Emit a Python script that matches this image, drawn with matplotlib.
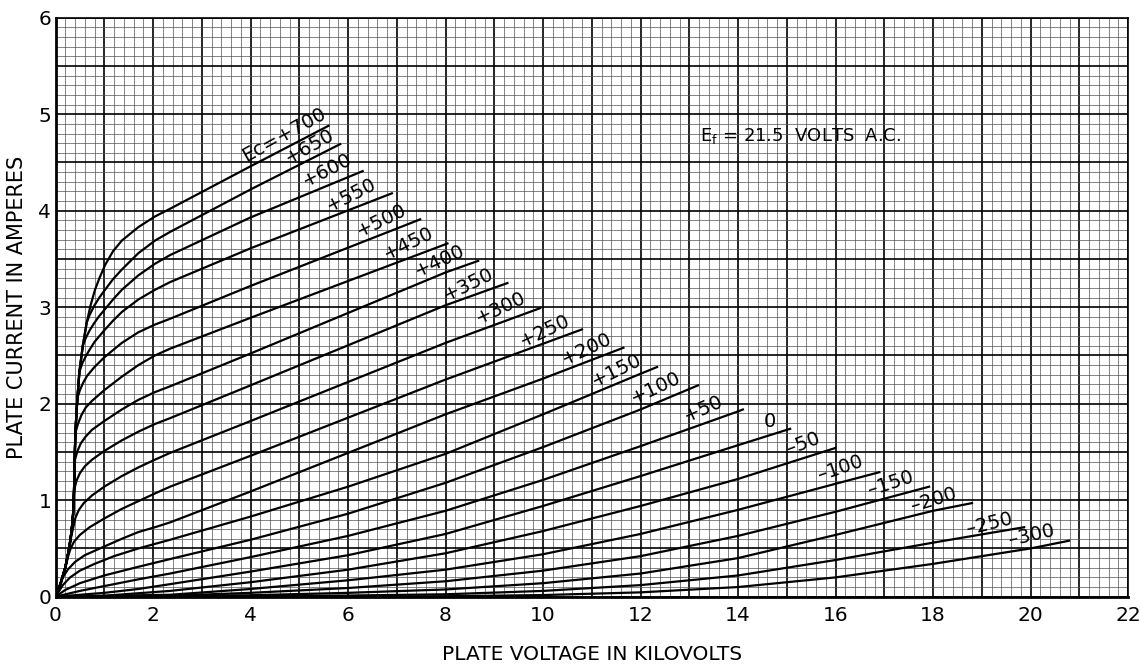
import matplotlib
matplotlib.use("Agg")
import matplotlib.pyplot as plt
from matplotlib.ticker import MultipleLocator, FuncFormatter

# Grid bias (volts) of each plate characteristic, top to bottom
grid_bias = [700, 650, 600, 550, 500, 450, 400, 350, 300, 250, 200,
             150, 100, 50, 0, -50, -100, -150, -200, -250, -300]

# Plate voltage (kV) / plate current (A) pairs for each grid bias
ep_p700 = [0, 0.1, 0.2, 0.28, 0.33, 0.36, 0.38, 0.39, 0.40, 0.41, 0.43, 0.45, 0.49, 0.56, 0.64,
           0.72, 0.81, 0.9, 1.02, 1.18, 1.36, 1.7, 2.04, 2.35, 4, 5.6]
ip_p700 = [0, 0.13, 0.3, 0.5, 0.68, 0.85, 1.1, 1.35, 1.55, 1.72, 1.9, 2.06, 2.33, 2.6, 2.84,
           3.02, 3.18, 3.3, 3.44, 3.58, 3.69, 3.83, 3.94, 4.02, 4.46, 4.88]

ep_p650 = [0, 0.1, 0.2, 0.28, 0.33, 0.36, 0.38, 0.39, 0.40, 0.41, 0.43, 0.45, 0.49, 0.56, 0.64,
           0.7, 0.8, 0.9, 1.0, 1.18, 1.36, 1.7, 2.04, 2.35, 4, 5.84]
ip_p650 = [0, 0.13, 0.3, 0.5, 0.68, 0.85, 1.1, 1.35, 1.55, 1.72, 1.9, 2.06, 2.33, 2.6, 2.84,
           2.92, 3.02, 3.1, 3.17, 3.29, 3.39, 3.56, 3.69, 3.78, 4.22, 4.69]

ep_p600 = [0, 0.1, 0.2, 0.28, 0.33, 0.36, 0.38, 0.39, 0.40, 0.41, 0.43, 0.45, 0.49, 0.56,
           0.62, 0.7, 0.8, 0.9, 1.0, 1.18, 1.36, 1.7, 2.04, 2.35, 4, 6.3]
ip_p600 = [0, 0.13, 0.3, 0.5, 0.68, 0.85, 1.1, 1.35, 1.55, 1.72, 1.9, 2.06, 2.33, 2.6,
           2.68, 2.76, 2.84, 2.91, 2.97, 3.08, 3.18, 3.33, 3.45, 3.54, 3.93, 4.41]

ep_p550 = [0, 0.1, 0.2, 0.28, 0.33, 0.36, 0.38, 0.39, 0.40, 0.41, 0.43, 0.45, 0.49,
           0.55, 0.62, 0.7, 0.8, 1.0, 1.18, 1.36, 1.7, 2.04, 2.35, 4, 6.9]
ip_p550 = [0, 0.13, 0.3, 0.5, 0.68, 0.85, 1.1, 1.35, 1.55, 1.72, 1.9, 2.06, 2.33,
           2.42, 2.49, 2.56, 2.64, 2.76, 2.86, 2.95, 3.08, 3.18, 3.26, 3.61, 4.18]

ep_p500 = [0, 0.1, 0.2, 0.28, 0.33, 0.36, 0.38, 0.39, 0.40, 0.41, 0.43, 0.45,
           0.5, 0.57, 0.65, 0.8, 1.0, 1.36, 1.7, 2.04, 2.35, 4, 7.48]
ip_p500 = [0, 0.13, 0.3, 0.5, 0.68, 0.85, 1.1, 1.35, 1.55, 1.72, 1.9, 2.06,
           2.14, 2.22, 2.29, 2.38, 2.48, 2.63, 2.74, 2.82, 2.88, 3.22, 3.91]

ep_p450 = [0, 0.1, 0.2, 0.28, 0.33, 0.36, 0.38, 0.39, 0.40, 0.41,
           0.46, 0.53, 0.62, 0.75, 1.0, 1.36, 1.7, 2.04, 2.35, 4, 8.04]
ip_p450 = [0, 0.13, 0.3, 0.5, 0.68, 0.85, 1.1, 1.35, 1.55, 1.70,
           1.79, 1.88, 1.96, 2.03, 2.14, 2.28, 2.40, 2.50, 2.57, 2.89, 3.66]

ep_p400 = [0, 0.1, 0.2, 0.28, 0.33, 0.36, 0.38, 0.395, 0.40,
           0.45, 0.52, 0.62, 0.75, 1.0, 1.36, 1.7, 2.04, 2.35, 4, 8, 8.67]
ip_p400 = [0, 0.13, 0.3, 0.5, 0.68, 0.85, 1.1, 1.3, 1.42,
           1.51, 1.59, 1.66, 1.73, 1.82, 1.94, 2.04, 2.12, 2.18, 2.52, 3.36, 3.48]

ep_p350 = [0, 0.1, 0.2, 0.28, 0.33, 0.36, 0.385,
           0.43, 0.5, 0.6, 0.75, 1.0, 1.36, 1.7, 2.04, 2.35, 4, 8, 9.27]
ip_p350 = [0, 0.13, 0.3, 0.5, 0.68, 0.85, 1.11,
           1.2, 1.28, 1.35, 1.42, 1.51, 1.62, 1.71, 1.79, 1.85, 2.19, 3.02, 3.25]

ep_p300 = [0, 0.1, 0.2, 0.28, 0.33, 0.37,
           0.41, 0.48, 0.58, 0.75, 1.0, 1.36, 1.7, 2.04, 2.35, 4, 8, 9.94]
ip_p300 = [0, 0.13, 0.3, 0.5, 0.64, 0.73,
           0.82, 0.9, 0.97, 1.05, 1.14, 1.25, 1.34, 1.42, 1.49, 1.82, 2.63, 2.99]

ep_p250 = [0, 0.1, 0.2, 0.26, 0.31, 0.38, 0.5, 0.7, 1.0, 1.36, 1.7, 2.04, 2.35, 4, 8, 10.8]
ip_p250 = [0, 0.13, 0.3, 0.42, 0.5, 0.57, 0.64, 0.72, 0.81, 0.91, 0.99, 1.07, 1.14, 1.46, 2.25, 2.77]

ep_p200 = [0, 0.08, 0.15, 0.25, 0.4, 0.6, 1.0, 1.36, 1.7, 2.04, 2.35, 4, 6, 8, 10, 11.65]
ip_p200 = [0, 0.1, 0.2, 0.28, 0.36, 0.43, 0.52, 0.6, 0.67, 0.72, 0.77, 1.09, 1.49, 1.89, 2.26, 2.58]

ep_p150 = [0, 0.15, 0.3, 0.5, 0.8, 1.2, 1.7, 2.35, 4, 6, 8, 10, 12, 12.34]
ip_p150 = [0, 0.12, 0.2, 0.27, 0.34, 0.42, 0.5, 0.59, 0.83, 1.14, 1.48, 1.89, 2.31, 2.38]

ep_p100 = [0, 0.2, 0.5, 1.0, 1.7, 2.35, 4, 6, 8, 10, 12, 13.18]
ip_p100 = [0, 0.07, 0.14, 0.22, 0.31, 0.39, 0.59, 0.86, 1.18, 1.55, 1.94, 2.19]

ep_p50 = [0, 0.5, 1.0, 1.7, 2.35, 4, 6, 8, 10, 12, 14, 14.1]
ip_p50 = [0, 0.06, 0.11, 0.18, 0.24, 0.41, 0.63, 0.89, 1.21, 1.56, 1.92, 1.94]

ep_0 = [0, 1.0, 1.7, 2.35, 4, 6, 8, 10, 12, 14, 15.07]
ip_0 = [0, 0.04, 0.08, 0.13, 0.26, 0.43, 0.65, 0.94, 1.25, 1.57, 1.74]

ep_m50 = [0, 1.0, 2.35, 4, 6, 8, 10, 12, 14, 15.99]
ip_m50 = [0, 0.01, 0.06, 0.15, 0.28, 0.45, 0.68, 0.94, 1.22, 1.54]

ep_m100 = [0, 2.35, 4, 6, 8, 10, 12, 14, 16, 16.9]
ip_m100 = [0, 0.02, 0.08, 0.17, 0.28, 0.44, 0.65, 0.90, 1.17, 1.29]

ep_m150 = [0, 2.35, 4, 6, 8, 10, 12, 14, 16, 17.92]
ip_m150 = [0, 0.01, 0.04, 0.09, 0.16, 0.27, 0.42, 0.63, 0.88, 1.14]

ep_m200 = [0, 4, 6, 8, 10, 12, 14, 16, 18, 18.8]
ip_m200 = [0, 0.015, 0.04, 0.075, 0.14, 0.24, 0.40, 0.64, 0.89, 0.97]

ep_m250 = [0, 4, 6, 8, 10, 12, 14, 16, 18, 19.87]
ip_m250 = [0, 0.005, 0.012, 0.025, 0.06, 0.12, 0.22, 0.38, 0.56, 0.72]

ep_m300 = [0, 6, 8, 10, 12, 14, 16, 18, 20, 20.79]
ip_m300 = [0, 0.0, 0.005, 0.017, 0.045, 0.10, 0.20, 0.34, 0.50, 0.58]

curves = [
    (ep_p700, ip_p700), (ep_p650, ip_p650), (ep_p600, ip_p600), (ep_p550, ip_p550),
    (ep_p500, ip_p500), (ep_p450, ip_p450), (ep_p400, ip_p400), (ep_p350, ip_p350),
    (ep_p300, ip_p300), (ep_p250, ip_p250), (ep_p200, ip_p200), (ep_p150, ip_p150),
    (ep_p100, ip_p100), (ep_p50, ip_p50), (ep_0, ip_0), (ep_m50, ip_m50),
    (ep_m100, ip_m100), (ep_m150, ip_m150), (ep_m200, ip_m200), (ep_m250, ip_m250),
    (ep_m300, ip_m300),
]

# Slant of each curve label (degrees on screen) and its shift from the curve end (pixels)
label_angles = [29, 29, 27, 27, 26, 26, 25, 26, 25, 25, 25, 26, 25, 24, 0,
                21, 19, 18, 17, 14, 13]
label_shift = [(-1, 9), (-4, 6), (-9, 8), (-14, 6), (-12, 6), (-12, 7), (-12, 6),
               (-12, 6), (-13, 7), (-11, 5), (-10, 5), (-14, 4), (-16, 4), (-18, 4),
               (-14, 2), (-14, 5), (-15, 6), (-14, 5), (-14, 5), (-11, 4), (-13, 5)]

x_ticks = [0, 2, 4, 6, 8, 10, 12, 14, 16, 18, 20, 22]
y_ticks = [0, 1, 2, 3, 4, 5, 6]


def bias_text(v):
    if v > 0:
        return f"+{v}"
    if v < 0:
        return f"\u2013{abs(v)}"
    return "0"


plt.rcParams["font.family"] = ["DejaVu Sans"]

W, H = 1141, 667
fig = plt.figure(figsize=(W / 100, H / 100), dpi=100)
left_px, right_px, top_px, bot_px = 55.5, 1128, 17.7, 596.7
ax = fig.add_axes([left_px / W, (H - bot_px) / H,
                   (right_px - left_px) / W, (bot_px - top_px) / H])
ax.set_xlim(0, 22)
ax.set_ylim(0, 6)

# Graph-paper ruling: heavy lines every 1 kV / 0.5 A, fine lines every 0.2 kV / 0.1 A
ax.xaxis.set_major_locator(MultipleLocator(1))
ax.xaxis.set_minor_locator(MultipleLocator(0.2))
ax.yaxis.set_major_locator(MultipleLocator(0.5))
ax.yaxis.set_minor_locator(MultipleLocator(0.1))
ax.xaxis.set_major_formatter(FuncFormatter(
    lambda v, _: str(int(round(v))) if int(round(v)) in x_ticks and abs(v - round(v)) < 1e-6 else ""))
ax.yaxis.set_major_formatter(FuncFormatter(
    lambda v, _: str(int(round(v))) if abs(v - round(v)) < 1e-6 and int(round(v)) in y_ticks else ""))
ax.tick_params(which="both", length=0)
ax.tick_params(axis="x", pad=7, labelsize=14.5)
ax.tick_params(axis="y", pad=3, labelsize=14.5)
ax.grid(which="major", color="black", lw=1.2)
ax.grid(which="minor", color="#505050", lw=0.5)
ax.set_axisbelow(True)
for side in ("left", "bottom"):
    ax.spines[side].set_linewidth(2.0)
for side in ("top", "right"):
    ax.spines[side].set_linewidth(1.2)

# Plate characteristics with their grid-bias labels
for bias, (ep, ip), ang, shift in zip(grid_bias, curves, label_angles, label_shift):
    ax.plot(ep, ip, color="black", lw=1.6, solid_joinstyle="round", zorder=3)
    text = bias_text(bias)
    if bias == grid_bias[0]:
        text = "Ec=" + text
    ax.annotate(text, xy=(ep[-1], ip[-1]), xytext=shift, textcoords="offset pixels",
                ha="right", va="baseline", rotation=ang, rotation_mode="anchor",
                fontsize=14, zorder=4)

ax.text(13.22, 4.72, "E$_\\mathregular{f}$ = 21.5  VOLTS  A.C.", fontsize=13,
        ha="left", va="baseline")

ax.set_xlabel("PLATE VOLTAGE IN KILOVOLTS", fontsize=14.5)
ax.set_ylabel("PLATE CURRENT IN AMPERES", fontsize=15)
ax.xaxis.set_label_coords(0.5, -0.083)
ax.yaxis.set_label_coords(-0.027, 0.5)

fig.savefig("out.png", dpi=100, facecolor="white")
